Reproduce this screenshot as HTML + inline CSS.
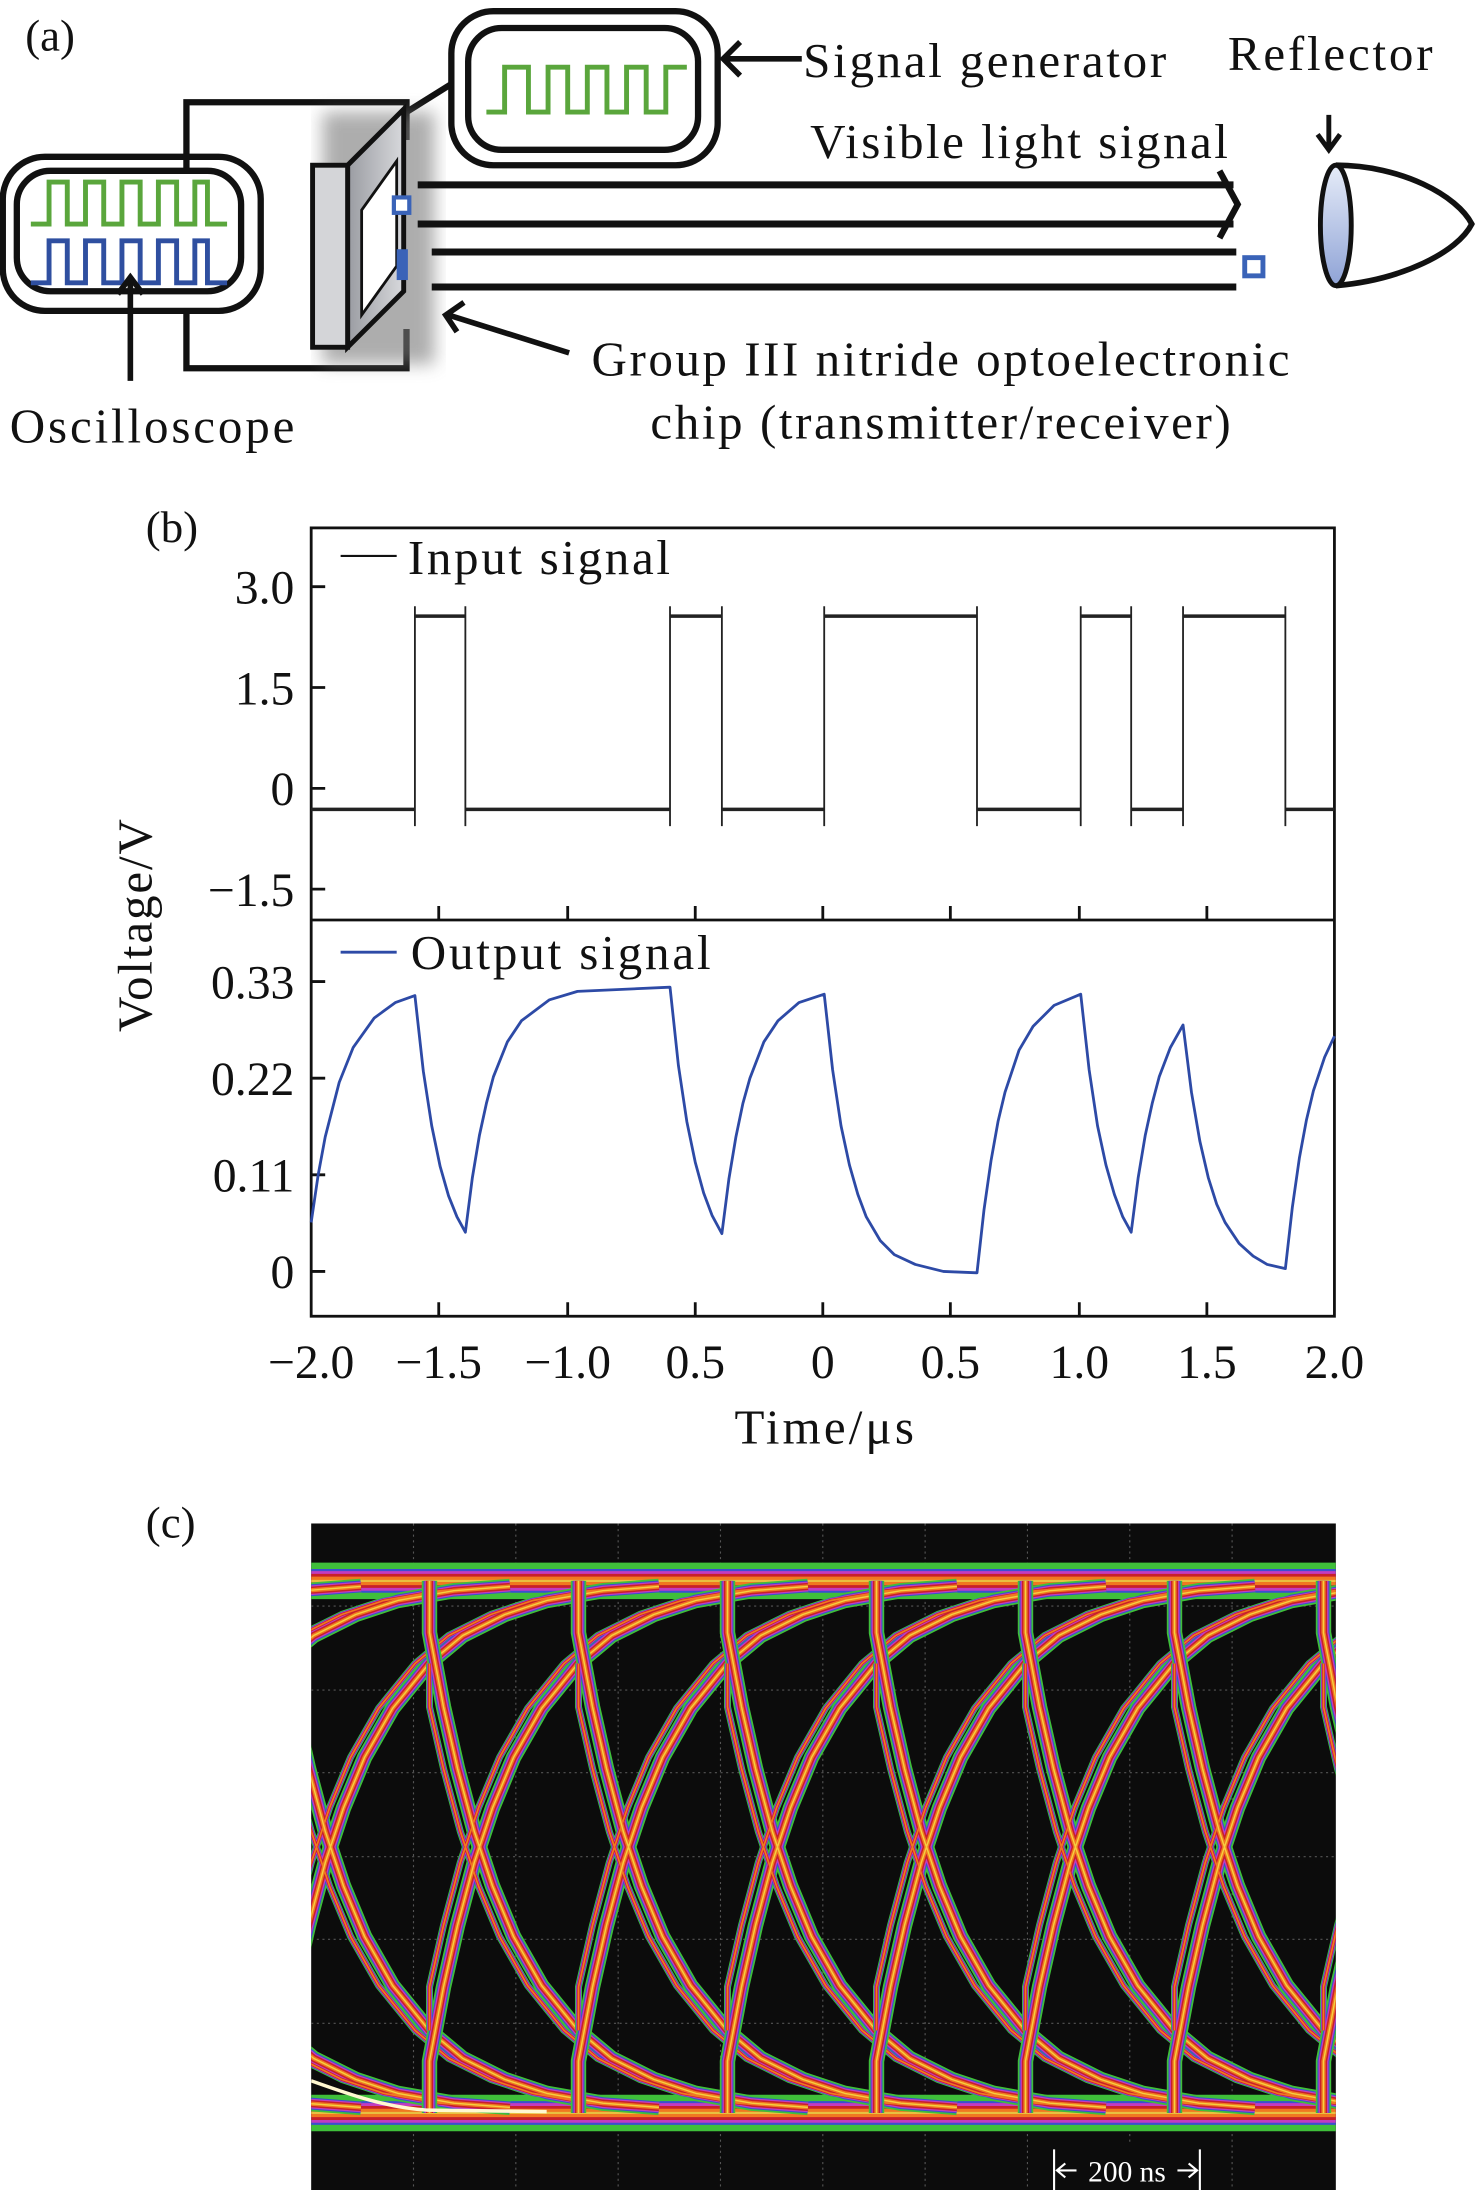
<!DOCTYPE html>
<html><head><meta charset="utf-8"><style>
html,body{margin:0;padding:0;background:#fff;}
svg{display:block;}
text{font-family:"Liberation Serif",serif;fill:#111;}
</style></head><body>
<svg width="1476" height="2197" viewBox="0 0 1053 1569" preserveAspectRatio="none" xmlns="http://www.w3.org/2000/svg">
<defs>
<linearGradient id="lens" x1="0" y1="0" x2="0" y2="1"><stop offset="0" stop-color="#e6ecf8"/><stop offset="1" stop-color="#8fa3d6"/></linearGradient>
<linearGradient id="chipg" x1="0" y1="0" x2="1" y2="0"><stop offset="0" stop-color="#9a9ca2"/><stop offset="1" stop-color="#d8d9dc"/></linearGradient>
<filter id="blur"><feGaussianBlur stdDeviation="6"/></filter>
<clipPath id="eyeclip"><rect x="222" y="1088" width="731" height="476"/></clipPath>
<path id="fall" d="M0,1129 L0,1166 L10,1219 L20,1263 L32,1308 L45,1347 L60,1383 L80,1418 L106,1450 L130,1470 L160,1485 L190,1495 L230,1502 L270,1505"/>
<path id="rise" d="M0,1509 L0,1472 L10,1419 L20,1375 L32,1330 L45,1291 L60,1255 L80,1220 L106,1188 L130,1168 L160,1153 L190,1143 L230,1136 L270,1133"/>
<path id="pfall" d="M0,1188 L0,1219 L10,1263 L22,1308 L35,1347 L50,1383 L70,1418 L96,1450 L120,1470 L150,1485 L180,1495 L220,1502 L260,1505"/>
<path id="prise" d="M0,1450 L0,1419 L10,1375 L22,1330 L35,1291 L50,1255 L70,1220 L96,1188 L120,1168 L150,1153 L180,1143 L220,1136 L260,1133"/>
<g id="unit" fill="none" stroke-linejoin="round">
 <g stroke="#3fbf3a"><use href="#rise" stroke-width="11"/><use href="#fall" stroke-width="11"/><use href="#prise" stroke-width="5"/><use href="#pfall" stroke-width="5"/></g>
 <g stroke="#3b4fd0"><use href="#rise" stroke-width="8.5"/><use href="#fall" stroke-width="8.5"/><use href="#prise" stroke-width="3.8"/><use href="#pfall" stroke-width="3.8"/></g>
 <g stroke="#c23cc0"><use href="#rise" stroke-width="7"/><use href="#fall" stroke-width="7"/><use href="#prise" stroke-width="3"/><use href="#pfall" stroke-width="3"/></g>
 <g stroke="#c8202a"><use href="#rise" stroke-width="5.2"/><use href="#fall" stroke-width="5.2"/><use href="#prise" stroke-width="2.2"/><use href="#pfall" stroke-width="2.2"/></g>
 <g stroke="#f07820"><use href="#rise" stroke-width="3"/><use href="#fall" stroke-width="3"/><use href="#prise" stroke-width="1.2"/><use href="#pfall" stroke-width="1.2"/></g>
 <g stroke="#f5d040"><use href="#rise" stroke-width="1"/><use href="#fall" stroke-width="1"/></g>
</g>
</defs>

<!-- (a) -->
<text x="18" y="36" font-size="32">(a)</text>
<g fill="none" stroke="#111" stroke-width="4.5">
 <path d="M133 120 V73 H290 V100"/>
 <path d="M133 222 V263 H290 V235"/>
 <rect x="2" y="112" width="184" height="110" rx="30"/>
 <rect x="12" y="122" width="160" height="86" rx="24"/>
 <rect x="322" y="8" width="190" height="110" rx="30"/>
 <rect x="334" y="20" width="164" height="87" rx="24"/>
 <path d="M290 80 L322 60"/>
</g>
<path d="M22 160 H35 V130 H48 V160 H61 V130 H74 V160 H87 V130 H100 V160 H113 V130 H126 V160 H139 V130 H148 V160 H162" fill="none" stroke="#5aa63c" stroke-width="3.5"/>
<path d="M22 202 H35 V172 H48 V202 H61 V172 H74 V202 H87 V172 H100 V202 H113 V172 H126 V202 H139 V172 H148 V202 H162" fill="none" stroke="#2f4fa0" stroke-width="3.5"/>
<path d="M347 80 H360 V48 H377 V80 H391 V48 H405 V80 H419 V48 H433 V80 H447 V48 H461 V80 H475 V48 H490" fill="none" stroke="#5aa63c" stroke-width="3.5"/>
<rect x="230" y="80" width="80" height="180" fill="#777" filter="url(#blur)" opacity="0.6"/>
<polygon points="248,118 288,78 288,208 248,248" fill="url(#chipg)" stroke="#111" stroke-width="3.5"/>
<polygon points="258,150 283,115 283,190 258,225" fill="#fff" stroke="#111" stroke-width="2"/>
<rect x="223" y="118" width="25" height="130" fill="#d4d5d8" stroke="#111" stroke-width="3.5"/>
<g stroke="#111" stroke-width="5" fill="none">
 <path d="M298 132 H880 M298 160 H880"/>
 <path d="M870 122 L883 146 L870 170" stroke-width="4.5"/>
 <path d="M308 180 H882 M308 205 H882"/>
 <path d="M572 42 H516 M528 30 L516 42 L528 54" stroke-width="4"/>
 <path d="M948 82 V106 M940 96 L948 107 L956 96" stroke-width="3.5"/>
 <path d="M406 252 L320 225 M326 237 L318 225 L331 216" stroke-width="4"/>
 <path d="M93 272 V198 M84 210 L93 198 L102 210" stroke-width="4"/>
</g>
<rect x="281" y="141" width="11" height="11" fill="#fff" stroke="#3a63b8" stroke-width="3"/>
<rect x="283" y="178" width="8" height="22" fill="#3a63b8"/>
<rect x="888" y="184" width="13" height="13" fill="#fff" stroke="#3a63b8" stroke-width="3.5"/>
<path d="M953 118 C1000 118 1040 140 1050 160 C1040 180 1000 200 953 204" fill="none" stroke="#111" stroke-width="4"/>
<ellipse cx="953" cy="161" rx="11" ry="43" fill="url(#lens)" stroke="#111" stroke-width="3.5"/>
<text x="573" y="55" font-size="35" textLength="259">Signal generator</text>
<text x="876" y="50" font-size="35" textLength="146">Reflector</text>
<text x="578" y="113" font-size="35" textLength="298">Visible light signal</text>
<text x="422" y="268" font-size="35" textLength="498">Group III nitride optoelectronic</text>
<text x="464" y="313" font-size="35" textLength="414">chip (transmitter/receiver)</text>
<text x="7" y="316" font-size="35" textLength="203">Oscilloscope</text>

<!-- (b) -->
<text x="104" y="387" font-size="32">(b)</text>
<g fill="none" stroke="#111" stroke-width="2">
 <rect x="222" y="377" width="730" height="563"/>
 <path d="M222 657 H952"/>
 <path d="M222 419 H232 M222 491 H232 M222 563 H232 M222 635 H232 M222 701 H232 M222 770 H232 M222 839 H232 M222 908 H232 M313 940 V930 M405 940 V930 M496 940 V930 M587 940 V930 M678 940 V930 M770 940 V930 M861 940 V930 M313 657 V647 M405 657 V647 M496 657 V647 M587 657 V647 M678 657 V647 M770 657 V647 M861 657 V647"/>
</g>
<text transform="translate(108 661) rotate(-90)" font-size="35" text-anchor="middle" textLength="152">Voltage/V</text>
<path d="M243 397 H283" stroke="#111" stroke-width="1.5"/>
<text x="291" y="410" font-size="35" textLength="187">Input signal</text>
<path d="M243 680 H283" stroke="#2d4aa6" stroke-width="2"/>
<text x="293" y="692" font-size="35" textLength="214">Output signal</text>
<g font-size="34" text-anchor="end">
 <text x="210" y="431">3.0</text><text x="210" y="503">1.5</text><text x="210" y="575">0</text><text x="210" y="647">−1.5</text>
 <text x="210" y="713">0.33</text><text x="210" y="782">0.22</text><text x="210" y="851">0.11</text><text x="210" y="920">0</text>
</g>
<g font-size="34" text-anchor="middle">
 <text x="222" y="984">−2.0</text><text x="313" y="984">−1.5</text><text x="405" y="984">−1.0</text><text x="496" y="984">0.5</text><text x="587" y="984">0</text><text x="678" y="984">0.5</text><text x="770" y="984">1.0</text><text x="861" y="984">1.5</text><text x="952" y="984">2.0</text>
</g>
<text x="588" y="1031" font-size="35" text-anchor="middle" textLength="128">Time/μs</text>
<path d="M296 440 H332 M478 440 H515 M588 440 H697 M771 440 H807 M844 440 H917 M222 578 H296 M332 578 H478 M515 578 H588 M697 578 H771 M807 578 H844 M917 578 H952" stroke="#222" stroke-width="2.5"/>
<path d="M296 433 V590 M332 433 V590 M478 433 V590 M515 433 V590 M588 433 V590 M697 433 V590 M771 433 V590 M807 433 V590 M844 433 V590 M917 433 V590" stroke="#222" stroke-width="1.3"/>
<path fill="none" stroke="#2d4aa6" stroke-width="2" stroke-linejoin="round" d="M222,873 L227,839 L232,812 L242,773 L252,748 L267,727 L282,716 L296,711 L302,765 L308,804 L314,833 L320,854 L326,869 L332,880 L337,841 L342,811 L347,788 L352,769 L362,744 L372,729 L392,714 L412,708 L478,705 L484,761 L490,801 L496,830 L502,852 L508,868 L515,881 L520,842 L525,812 L530,788 L535,770 L545,744 L555,729 L570,716 L588,710 L594,764 L600,804 L606,832 L612,853 L618,869 L628,886 L638,896 L653,903 L673,908 L697,909 L702,864 L707,829 L712,801 L717,780 L727,750 L737,733 L752,718 L771,710 L777,764 L783,804 L789,832 L795,853 L801,869 L807,880 L812,841 L817,811 L822,788 L827,769 L835,748 L844,732 L850,780 L856,815 L862,841 L868,860 L874,873 L884,888 L894,897 L904,903 L917,906 L922,862 L927,827 L932,800 L937,779 L945,755 L952,740"/>

<!-- (c) -->
<text x="104" y="1098" font-size="32">(c)</text>
<rect x="222" y="1088" width="731" height="476" fill="#0c0c0c"/>
<g clip-path="url(#eyeclip)">
 <path d="M295 1088 V1564 M368 1088 V1564 M441 1088 V1564 M514 1088 V1564 M587 1088 V1564 M660 1088 V1564 M733 1088 V1564 M806 1088 V1564 M879 1088 V1564 M222 1147 H953 M222 1207 H953 M222 1266 H953 M222 1326 H953 M222 1385 H953 M222 1445 H953 M222 1504 H953" stroke="#555" stroke-width="0.8" stroke-dasharray="1.5 2.5" fill="none"/>
 <g fill="none">
  <path d="M222 1129 H953 M222 1509 H953" stroke="#3fbf3a" stroke-width="26"/>
  <path d="M222 1129 H953 M222 1509 H953" stroke="#3b4fd0" stroke-width="17"/>
  <path d="M222 1129 H953 M222 1509 H953" stroke="#c23cc0" stroke-width="14"/>
  <path d="M222 1129 H953 M222 1509 H953" stroke="#c8202a" stroke-width="10"/>
  <path d="M222 1129 H953 M222 1509 H953" stroke="#f07820" stroke-width="6"/>
  <path d="M222 1129 H953 M222 1509 H953" stroke="#e8c040" stroke-width="1.5"/>
 </g>
 <use href="#unit" transform="translate(-12.5 0)"/>
 <use href="#unit" transform="translate(93.8 0)"/>
 <use href="#unit" transform="translate(200.1 0)"/>
 <use href="#unit" transform="translate(306.4 0)"/>
 <use href="#unit" transform="translate(412.7 0)"/>
 <use href="#unit" transform="translate(519 0)"/>
 <use href="#unit" transform="translate(625.3 0)"/>
 <use href="#unit" transform="translate(731.6 0)"/>
 <use href="#unit" transform="translate(837.9 0)"/>
 <use href="#unit" transform="translate(944.2 0)"/>
 <path d="M222 1486 C250 1496 275 1505 305 1507 L390 1508" fill="none" stroke="#fff8d0" stroke-width="2.5"/>
</g>
<rect x="745" y="1530" width="118" height="34" fill="#0c0c0c"/>
<g stroke="#fff" stroke-width="1.5" fill="none">
 <path d="M752 1535 V1565 M856 1535 V1565 M754 1550 H768 M854 1550 H840 M760 1545 L754 1550 L760 1555 M848 1545 L854 1550 L848 1555"/>
</g>
<text x="804" y="1558" font-size="21" text-anchor="middle" style="fill:#fff">200 ns</text>
</svg>
</body></html>
